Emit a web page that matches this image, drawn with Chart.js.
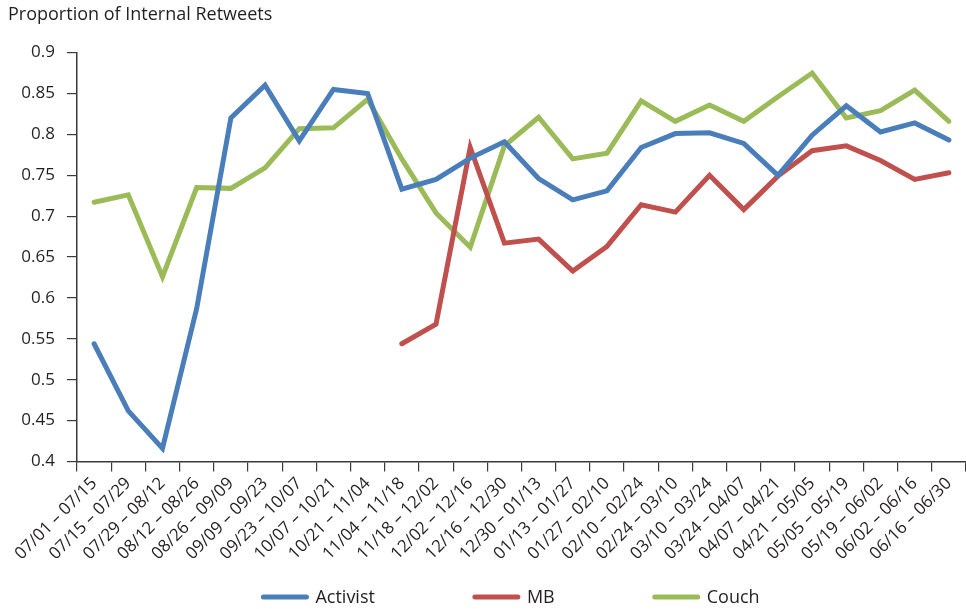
<!DOCTYPE html>
<html>
<head>
<meta charset="utf-8">
<script src="https://cdn.jsdelivr.net/npm/chart.js@4/dist/chart.umd.min.js"></script>
<style>
  html, body { margin: 0; padding: 0; background: #fff; }
  #wrap { width: 966px; height: 609px; }
</style>
</head>
<body>
<div id="wrap"><canvas id="c" width="966" height="609"></canvas></div>
<script>
const categories = [
  "07/01 \u2013 07/15", "07/15 \u2013 07/29", "07/29 \u2013 08/12", "08/12 \u2013 08/26",
  "08/26 \u2013 09/09", "09/09 \u2013 09/23", "09/23 \u2013 10/07", "10/07 \u2013 10/21",
  "10/21 \u2013 11/04", "11/04 \u2013 11/18", "11/18 \u2013 12/02", "12/02 \u2013 12/16",
  "12/16 \u2013 12/30", "12/30 \u2013 01/13", "01/13 \u2013 01/27", "01/27 \u2013 02/10",
  "02/10 \u2013 02/24", "02/24 \u2013 03/10", "03/10 \u2013 03/24", "03/24 \u2013 04/07",
  "04/07 \u2013 04/21", "04/21 \u2013 05/05", "05/05 \u2013 05/19", "05/19 \u2013 06/02",
  "06/02 \u2013 06/16", "06/16 \u2013 06/30"
];
const activist = [0.544, 0.462, 0.416, 0.587, 0.820, 0.860, 0.792, 0.855, 0.850, 0.733,
  0.745, 0.771, 0.791, 0.746, 0.720, 0.731, 0.784, 0.801, 0.802, 0.789,
  0.750, 0.799, 0.835, 0.803, 0.814, 0.793];
const mb = [null, null, null, null, null, null, null, null, null, 0.544,
  0.568, 0.784, 0.667, 0.672, 0.633, 0.663, 0.714, 0.705, 0.750, 0.708,
  0.749, 0.780, 0.786, 0.768, 0.745, 0.753];
const couch = [0.717, 0.726, 0.626, 0.735, 0.734, 0.759, 0.807, 0.808, 0.843, 0.770,
  0.704, 0.662, 0.786, 0.821, 0.770, 0.777, 0.841, 0.816, 0.836, 0.816,
  0.846, 0.875, 0.820, 0.829, 0.854, 0.816];
const seriesNames = ["Activist", "MB", "Couch"];
const yTitle = "Proportion of Internal Retweets";
const yMin = 0.4, yMax = 0.9, yStep = 0.05;

const colors = ["#4a7ebb", "#c0504d", "#9bbb59"];
const textColor = "#231f20";
const FONT = "'Open Sans', 'DejaVu Sans', sans-serif";

const legendPlugin = {
  id: 'customLegend',
  afterDraw(chart) {
    const ctx = chart.ctx;
    const lineLen = 47, gapText = 7, gapItem = 98;
    ctx.save();
    ctx.font = "18px " + FONT;
    const items = chart.data.datasets.map(ds => ({
      label: ds.label, color: ds.borderColor, w: lineLen + gapText + ctx.measureText(ds.label).width
    }));
    const total = items.reduce((s, it) => s + it.w, 0) + gapItem * (items.length - 1);
    const center = (chart.chartArea.left + chart.chartArea.right) / 2 - 11;
    let x = center - total / 2;
    const y = 597;
    items.forEach(it => {
      ctx.strokeStyle = it.color;
      ctx.lineWidth = 5;
      ctx.lineCap = 'round';
      ctx.beginPath();
      ctx.moveTo(x + 2, y);
      ctx.lineTo(x + lineLen - 2, y);
      ctx.stroke();
      ctx.fillStyle = textColor;
      ctx.textAlign = 'left';
      ctx.textBaseline = 'middle';
      ctx.fillText(it.label, x + lineLen + gapText, y + 1);
      x += it.w + gapItem;
    });
    ctx.restore();
  }
};

new Chart(document.getElementById('c'), {
  type: 'line',
  data: {
    labels: categories,
    datasets: [activist, mb, couch].map((d, i) => ({
      label: seriesNames[i],
      data: d,
      borderColor: colors[i],
      backgroundColor: colors[i],
      borderWidth: 5,
      pointRadius: 0,
      pointHoverRadius: 0,
      tension: 0,
      fill: false,
      borderCapStyle: 'round',
      borderJoinStyle: 'miter',
      spanGaps: false
    }))
  },
  options: {
    responsive: false,
    animation: false,
    devicePixelRatio: 1,
    layout: { padding: { left: 8, right: 0, top: 0, bottom: 43 } },
    plugins: {
      legend: { display: false },
      tooltip: { enabled: false },
      title: {
        display: true,
        text: yTitle,
        align: 'start',
        color: textColor,
        font: { family: FONT, size: 18, weight: 'normal' },
        padding: { top: 4, bottom: 27 }
      }
    },
    scales: {
      x: {
        offset: true,
        grid: {
          display: true,
          drawOnChartArea: false,
          drawTicks: true,
          tickLength: 10,
          offset: true,
          color: '#3a3a3a',
          lineWidth: 1.2
        },
        border: { display: true, color: '#3a3a3a', width: 1.5 },
        ticks: {
          autoSkip: false,
          minRotation: 45,
          maxRotation: 45,
          color: textColor,
          padding: 2,
          font: { family: FONT, size: 17 }
        }
      },
      y: {
        min: yMin,
        max: yMax,
        afterFit: s => { s.width = 69; },
        grid: {
          display: true,
          drawOnChartArea: false,
          drawTicks: true,
          tickLength: 10,
          color: '#3a3a3a',
          lineWidth: 1.2
        },
        border: { display: true, color: '#3a3a3a', width: 1.5 },
        ticks: {
          stepSize: yStep,
          color: textColor,
          padding: 12,
          font: { family: FONT, size: 17 },
          callback: v => String(Math.round(v * 100) / 100)
        }
      }
    }
  },
  plugins: [legendPlugin]
});
</script>
</body>
</html>
